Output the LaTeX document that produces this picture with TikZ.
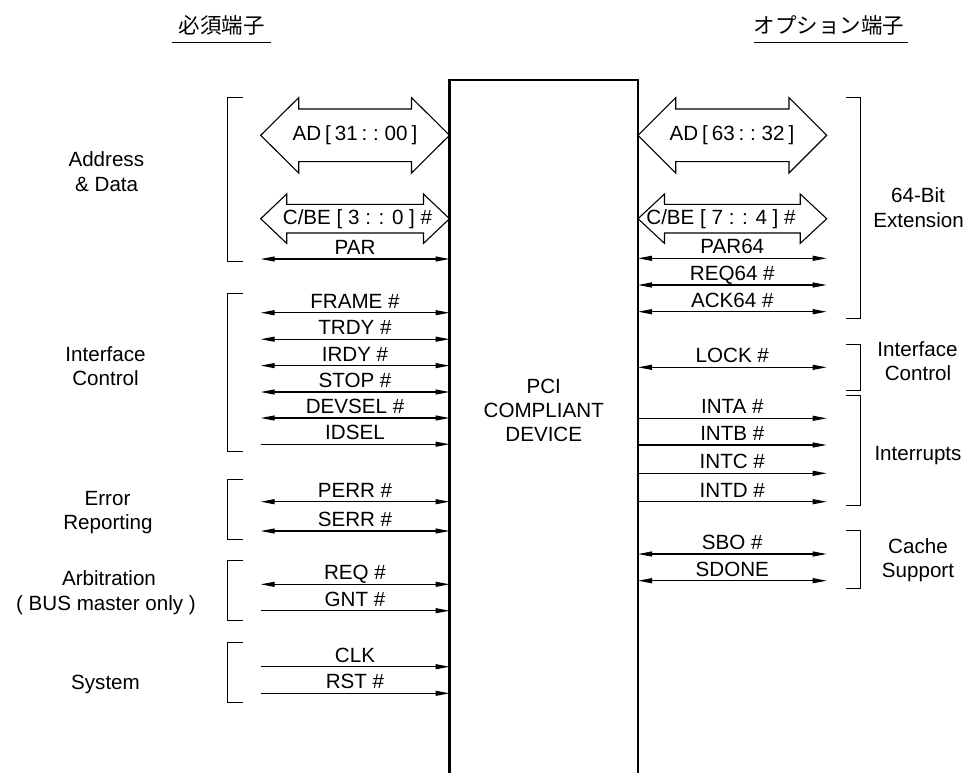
\documentclass[tikz,border=0pt]{standalone}
\usepackage{fontspec}
\setmainfont{Liberation Sans}
\newfontfamily\jpfont{Noto Sans CJK JP}
\usetikzlibrary{arrows.meta}
\newcommand\LeftSig[4]{%
  \coordinate (#1a) at (260.7,#2);
  \coordinate (#1b) at (449.5,#2);
  \draw[#4] (#1a) -- (#1b);
  \node[lab] (#1) at (355,#2-4.6) {#3};}
\newcommand\RightSig[4]{%
  \coordinate (#1a) at (638,#2);
  \coordinate (#1b) at (826.7,#2);
  \draw[#4] (#1a) -- (#1b);
  \node[lab] (#1) at (732.3,#2-4.6) {#3};}
\newcommand\DblArrow[6]{%
  \draw[bigarrow] (#1,#3) -- (#1+#6,#3-#4) -- (#1+#6,#3-#5) -- (#2-#6,#3-#5)
    -- (#2-#6,#3-#4) -- (#2,#3) -- (#2-#6,#3+#4) -- (#2-#6,#3+#5)
    -- (#1+#6,#3+#5) -- (#1+#6,#3+#4) -- cycle;}
\newcommand\LBrk[2]{\draw[brk] (243,#1) -- (227.5,#1) -- (227.5,#2) -- (243,#2);}
\newcommand\RBrk[2]{\draw[brk] (846,#1) -- (860,#1) -- (860,#2) -- (846,#2);}
\begin{document}
\begin{tikzpicture}[x=1pt,y=-1pt,
  every node/.style={inner sep=0pt,font=\fontsize{20.6}{24}\selectfont},
  lab/.style={anchor=base},
  narrow/.style={execute at begin node={\spaceskip=3.9pt plus 0pt minus 0pt}},
  sig/.style={line width=1.1pt},
  sigboth/.style={sig,{Triangle[length=14pt,width=5pt]}-{Triangle[length=14pt,width=5pt]}},
  sigout/.style={sig,-{Triangle[length=14pt,width=5pt]}},
  brk/.style={line width=1pt},
  bigarrow/.style={line width=1.1pt,line join=miter},
  devbox/.style={line width=2.7pt},
  hdr/.style={anchor=base,font=\jpfont\fontsize{21.5}{26}\selectfont},
  uline/.style={line width=1.1pt},
]
\useasboundingbox (0,0) rectangle (976,772);

% headers
\node[hdr] (hdrL) at (221.5,33.5) {必須端子};
\coordinate (ulLa) at (171.7,42.3);
\coordinate (ulLb) at (270.7,42.3);
\draw[uline] (ulLa) -- (ulLb);
\node[hdr] (hdrR) at (829,33.5) {オプション端子};
\coordinate (ulRa) at (754,42.3);
\coordinate (ulRb) at (908.3,42.3);
\draw[uline] (ulRa) -- (ulRb);

% big arrows
\DblArrow{260.7}{449.5}{135.3}{37.7}{26.3}{38}
\node[narrow] (adL) at (355,135.3) {AD [ 31 : : 00 ]};
\DblArrow{260.7}{449.5}{218.7}{24.7}{14.3}{26}
\node (cbeL) at (357.5,218.7) {C/BE [ 3 : : 0 ] \#};
\DblArrow{638}{826.7}{135.3}{37.7}{26.3}{37.7}
\node[narrow] (adR) at (732,135.3) {AD [ 63 : : 32 ]};
\DblArrow{638}{826.7}{218.7}{24.7}{14.3}{26.5}
\node (cbeR) at (721,218.7) {C/BE [ 7 : : 4 ] \#};

% left signals
\LeftSig{par}{259}{PAR}{sigboth}
\LeftSig{frame}{312.7}{FRAME \#}{sigboth}
\LeftSig{trdy}{339.2}{TRDY \#}{sigboth}
\LeftSig{irdy}{365.6}{IRDY \#}{sigboth}
\LeftSig{stop}{392}{STOP \#}{sigboth}
\LeftSig{devsel}{418}{DEVSEL \#}{sigboth}
\LeftSig{idsel}{444.2}{IDSEL}{sigout}
\LeftSig{perr}{501.7}{PERR \#}{sigboth}
\LeftSig{serr}{531}{SERR \#}{sigboth}
\LeftSig{req}{584.3}{REQ \#}{sigboth}
\LeftSig{gnt}{610.7}{GNT \#}{sigout}
\LeftSig{clk}{666.7}{CLK}{sigout}
\LeftSig{rst}{693.3}{RST \#}{sigout}

% right signals
\RightSig{parsf}{258.3}{PAR64}{sigboth}
\RightSig{reqsf}{285}{REQ64 \#}{sigboth}
\RightSig{acksf}{311.7}{ACK64 \#}{sigboth}
\RightSig{lock}{367.3}{LOCK \#}{sigboth}
\RightSig{inta}{418.3}{INTA \#}{sigout}
\RightSig{intb}{445}{INTB \#}{sigout}
\RightSig{intc}{473.3}{INTC \#}{sigout}
\RightSig{intd}{501.7}{INTD \#}{sigout}
\RightSig{sbo}{554}{SBO \#}{sigboth}
\RightSig{sdone}{580.7}{SDONE}{sigboth}

% device box
\coordinate (boxBL) at (449.5,773);
\coordinate (boxTL) at (449.5,80);
\coordinate (boxTR) at (638,80);
\coordinate (boxBR) at (638,773);
\draw[devbox] (boxBL) -- (boxTL) -- (boxTR) -- (boxBR);
\node[lab] (pci1) at (543.75,393.3) {PCI};
\node[lab] (pci2) at (543.75,417) {COMPLIANT};
\node[lab] (pci3) at (543.75,441.5) {DEVICE};

% left brackets
\LBrk{97.3}{261}
\LBrk{293.3}{451}
\LBrk{479.3}{539}
\LBrk{560}{620.7}
\LBrk{642.7}{702.3}
% right brackets
\RBrk{97.3}{318.3}
\RBrk{344}{390.7}
\RBrk{395}{505.7}
\RBrk{530}{588}

% left group labels
\node[lab] (gAD1) at (106.3,166.7) {Address};
\node[lab] (gAD2) at (106.7,191.7) {\& Data};
\node[lab] (gIC1) at (105.5,361) {Interface};
\node[lab] (gIC2) at (105.5,385) {Control};
\node[lab] (gER1) at (107.5,505) {Error};
\node[lab] (gER2) at (108,529) {Reporting};
\node[lab] (gAB1) at (109,585) {Arbitration};
\node[lab] (gAB2) at (106,610) {( BUS master only )};
\node[lab] (gSY) at (105.5,689) {System};

% right group labels
\node[lab] (g641) at (918,202) {64-Bit};
\node[lab] (g642) at (918.5,227) {Extension};
\node[lab] (gRC1) at (917.5,356) {Interface};
\node[lab] (gRC2) at (918,380) {Control};
\node[lab] (gIN) at (918,460) {Interrupts};
\node[lab] (gCA1) at (918,553) {Cache};
\node[lab] (gCA2) at (918,577) {Support};
\end{tikzpicture}
\end{document}
